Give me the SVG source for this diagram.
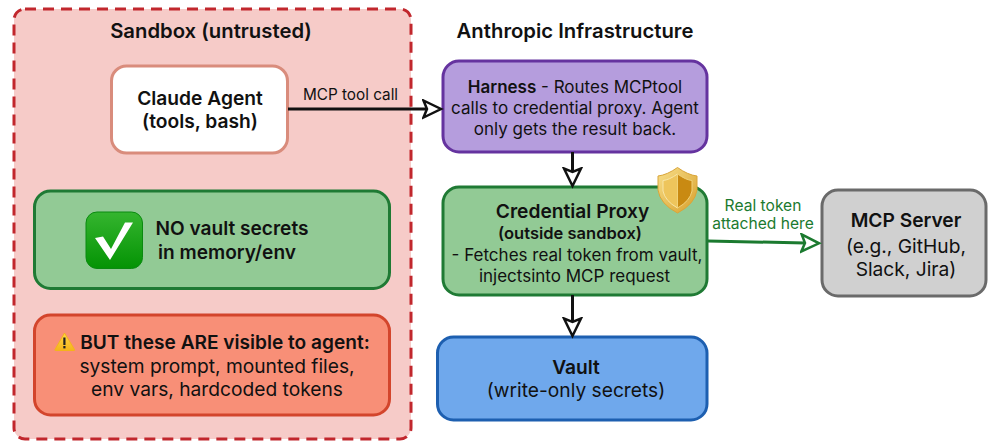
<svg xmlns="http://www.w3.org/2000/svg" width="1000" height="448" viewBox="0 0 1000 448">
<style>
text{font-family:Inter,"Liberation Sans",sans-serif;fill:#111;text-anchor:middle}
.h{font-size:20.300px;font-weight:600}
.t{font-size:19.200px;font-weight:600}
.b{font-size:17px;font-weight:400}
.bb{font-size:16.500px;font-weight:600}
.l{font-size:19.200px;font-weight:400}
.s{font-size:19.100px;font-weight:600}
.box{stroke-width:3}
.c{fill:none;stroke:#111;stroke-width:3}
.lb{font-size:15.300px}
.g{fill:#1b7a2f;font-size:15.600px}
</style>
<defs>
<marker id="ah" markerUnits="userSpaceOnUse" markerWidth="24" markerHeight="24" refX="5" refY="10" orient="auto"><path d="M1.500 1.500 L19 10 L1.500 18.500 L5 10 Z" fill="#fff" stroke="#111" stroke-width="2.500"/></marker>
<marker id="ahg" markerUnits="userSpaceOnUse" markerWidth="24" markerHeight="24" refX="5" refY="10" orient="auto"><path d="M1.500 1.500 L19 10 L1.500 18.500 L5 10 Z" fill="#fff" stroke="#1b7a2f" stroke-width="2.500"/></marker>
<linearGradient id="gc" x1="0" y1="0" x2="0" y2="1"><stop offset="0" stop-color="#35b52f"/><stop offset="1" stop-color="#049304"/></linearGradient>
<linearGradient id="gs" x1="0" y1="0" x2="1" y2="1"><stop offset="0" stop-color="#f8df8a"/><stop offset="1" stop-color="#d8a02c"/></linearGradient>
<linearGradient id="gw" x1="0" y1="0" x2="0" y2="1"><stop offset="0" stop-color="#ffd84a"/><stop offset="1" stop-color="#f4b41a"/></linearGradient>
</defs>
<g id="sandbox">
<rect x="14" y="9" width="397" height="430" rx="11" fill="#f6cbc8" stroke="#c1272d" stroke-width="3" stroke-dasharray="11 7"/>
<text class="h" x="211" y="38">Sandbox (untrusted)</text>
</g>
<g id="infra-title"><text class="h" x="575" y="38">Anthropic Infrastructure</text></g>
<g id="claude-agent">
<rect class="box" x="111.500" y="66" width="176" height="87" rx="15" fill="#fff" stroke="#d98c7c"/>
<text class="t" x="200" y="105">Claude Agent</text>
<text class="t" x="200" y="128">(tools, bash)</text>
</g>
<g id="no-secrets">
<rect class="box" x="34.500" y="191" width="355" height="97.500" rx="16" fill="#92ca95" stroke="#1f7a34"/>
<rect x="86" y="212" width="56.500" height="56.500" rx="11" fill="url(#gc)" stroke="#0a8a10" stroke-width="1"/>
<path d="M95 238 L103 236.500 L111 249 L125 222.500 L133 222.500 L110 260 Z" fill="#fff"/>
<text class="s" x="232" y="235">NO vault secrets</text>
<text class="s" x="227" y="258.500">in memory/env</text>
</g>
<g id="visible-warning">
<rect class="box" x="34.500" y="315" width="355" height="100" rx="16" fill="#f88f77" stroke="#d3452c"/>
<path d="M64.500 333 L55 349.500 Q54.500 350.500 55.500 350.500 L74 350.500 Q75 350.500 74.500 349.500 Z" fill="url(#gw)" stroke="#f4b41a" stroke-width="1"/>
<rect x="63.300" y="337.500" width="2.200" height="7.500" fill="#222"/>
<rect x="63.300" y="346" width="2.200" height="2.400" fill="#222"/>
<text class="s" x="225" y="349">BUT these ARE visible to agent:</text>
<text class="l" x="217" y="372.500">system prompt, mounted files,</text>
<text class="l" x="217" y="395.500">env vars, hardcoded tokens</text>
</g>
<g id="harness">
<rect class="box" x="443" y="61" width="264" height="91" rx="16" fill="#b59ddd" stroke="#65339f"/>
<text class="b" x="575" y="92.500"><tspan font-weight="600">Harness</tspan> - Routes MCPtool</text>
<text class="b" x="575" y="113.500">calls to credential proxy. Agent</text>
<text class="b" x="575" y="134.500">only gets the result back.</text>
</g>
<g id="credential-proxy">
<rect class="box" x="443" y="187" width="264" height="108" rx="16" fill="#92ca95" stroke="#1f7a34"/>
<text class="t" x="572.500" y="218">Credential Proxy</text>
<text class="bb" x="570" y="239">(outside sandbox)</text>
<text class="b" x="577" y="260.500">- Fetches real token from vault,</text>
<text class="b" x="574.500" y="281.500">injectsinto MCP request</text>
<path d="M677.500 167.500 Q667 175 658 176 L658 190 Q660 204 677.500 213 Q695 204 697 190 L697 176 Q688 175 677.500 167.500 Z" fill="url(#gs)" stroke="#d9a53a" stroke-width="1"/>
<path d="M677.500 174 Q669 180 663 180.500 L663 191 Q665 201 677.500 208 Z" fill="#eec55c" stroke="#f8e6a8" stroke-width="1"/>
<path d="M677.500 174 Q686 180 692 180.500 L692 191 Q690 201 677.500 208 Z" fill="#c98a12" stroke="#f0d27a" stroke-width="1"/>
</g>
<g id="vault">
<rect class="box" x="437.500" y="337" width="269.500" height="83" rx="16" fill="#6fa8ec" stroke="#1d5fb0"/>
<text class="t" x="576" y="374">Vault</text>
<text class="l" x="576" y="397">(write-only secrets)</text>
</g>
<g id="mcp-server">
<rect class="box" x="822" y="190" width="164" height="106" rx="16" fill="#d0d0d0" stroke="#6a6a6a"/>
<text class="t" x="906" y="227">MCP Server</text>
<text class="l" x="906" y="252.500">(e.g., GitHub,</text>
<text class="l" x="906" y="275.500">Slack, Jira)</text>
</g>
<g id="connectors">
<path class="c" d="M288 109 H427" marker-end="url(#ah)"/>
<path class="c" d="M572.500 152 V172" marker-end="url(#ah)"/>
<path class="c" d="M572.500 295 V322" marker-end="url(#ah)"/>
<path class="c" style="stroke:#1b7a2f" d="M708 241 L805 243" marker-end="url(#ahg)"/>
<text class="lb" x="350.500" y="100">MCP tool call</text>
<text class="g" x="763" y="211">Real token</text>
<text class="g" x="763" y="229">attached here</text>
</g>
</svg>
